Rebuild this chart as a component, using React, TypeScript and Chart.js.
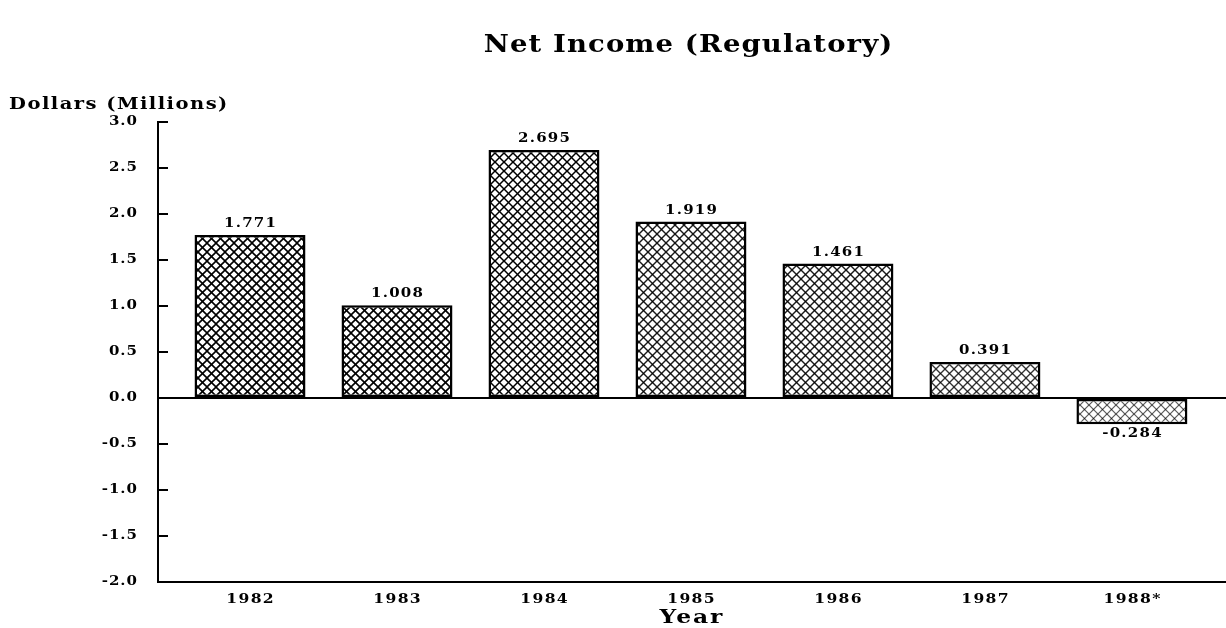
import { useEffect, useRef } from "react";
import { Chart, registerables } from "chart.js";

Chart.register(...registerables);

const categories = ["1982", "1983", "1984", "1985", "1986", "1987", "1988*"];
const netIncome = [1.771, 1.008, 2.695, 1.919, 1.461, 0.391, -0.284];
const valueLabels = ["1.771", "1.008", "2.695", "1.919", "1.461", "0.391", "-0.284"];
const yMin = -2.0;
const yMax = 3.0;
const yStep = 0.5;

const TITLE = "Net Income (Regulatory)";
const Y_LABEL = "Dollars (Millions)";
const X_LABEL = "Year";

function makePattern(strength: number, width: number): CanvasPattern | string {
  const s = 9;
  const c = document.createElement("canvas");
  c.width = s;
  c.height = s;
  const g = c.getContext("2d");
  if (!g) return "#888";
  g.fillStyle = "#fff";
  g.fillRect(0, 0, s, s);
  g.strokeStyle = `rgba(0,0,0,${strength})`;
  g.lineWidth = width;
  for (const d of [-s, 0, s]) {
    g.beginPath();
    g.moveTo(d, 0);
    g.lineTo(d + s, s);
    g.stroke();
    g.beginPath();
    g.moveTo(d + s, 0);
    g.lineTo(d, s);
    g.stroke();
  }
  const p = g.createPattern(c, "repeat");
  return p || "#888";
}

const FONT = "'DejaVu Serif', serif";

function wideText(
  ctx: CanvasRenderingContext2D,
  text: string,
  x: number,
  y: number,
  sx: number,
  spacing: number
) {
  ctx.save();
  ctx.translate(x, y);
  ctx.scale(sx, 1);
  (ctx as any).letterSpacing = `${spacing}px`;
  let dx = 0;
  if (ctx.textAlign === "center") dx = spacing / 2;
  else if (ctx.textAlign === "right") dx = spacing;
  ctx.fillText(text, dx, 0);
  ctx.restore();
}

const textPlugin = {
  id: "textPlugin",
  afterDraw(chart: any) {
    const ctx = chart.ctx as CanvasRenderingContext2D;
    const xs = chart.scales.x;
    const ys = chart.scales.y;
    const area = chart.chartArea;
    ctx.save();
    ctx.fillStyle = "#000";
    ctx.strokeStyle = "#000";
    ctx.textBaseline = "middle";

    // title
    ctx.font = `bold 25px ${FONT}`;
    ctx.textAlign = "center";
    wideText(ctx, TITLE, 688, 45, 1.1, 1);

    // y label
    ctx.font = `bold 16px ${FONT}`;
    ctx.textAlign = "left";
    wideText(ctx, Y_LABEL, 9, 105, 1.22, 1.2);

    // y ticks (inside marks) and labels
    ctx.font = `bold 12px ${FONT}`;
    ctx.textAlign = "right";
    ctx.lineWidth = 2;
    ys.ticks.forEach((t: any) => {
      const y = ys.getPixelForValue(t.value);
      ctx.beginPath();
      ctx.moveTo(area.left, y);
      ctx.lineTo(area.left + 10, y);
      ctx.stroke();
      wideText(ctx, Number(t.value).toFixed(1), 137, y, 1.25, 0.8);
    });

    // x tick labels
    ctx.textAlign = "center";
    categories.forEach((c, i) => {
      const x = xs.getPixelForValue(i);
      wideText(ctx, c, x, 600, 1.3, 1);
    });

    // x axis title
    ctx.font = `bold 18px ${FONT}`;
    wideText(ctx, X_LABEL, 691, 618, 1.3, 1.5);

    // value labels
    ctx.font = `bold 12px ${FONT}`;
    const meta = chart.getDatasetMeta(0);
    meta.data.forEach((el: any, i: number) => {
      const v = netIncome[i];
      const y = v >= 0 ? el.y - 11 : el.y + 10;
      wideText(ctx, valueLabels[i], el.x, y, 1.25, 1);
    });
    ctx.restore();
  },
};

export default function App() {
  const ref = useRef<HTMLCanvasElement | null>(null);
  useEffect(() => {
    if (!ref.current) return;
    const strengths = [1, 1, 1, 0.9, 0.9, 0.8, 0.65];
    const widths = [1.6, 1.6, 1.5, 1.4, 1.4, 1.3, 1.2];
    const patterns = netIncome.map((_, i) => makePattern(strengths[i], widths[i]));
    const chart = new Chart(ref.current, {
      type: "bar",
      data: {
        datasets: [
          {
            data: netIncome.map((v, i) => ({ x: i, y: v })),
            backgroundColor: patterns as any,
            borderColor: "#000",
            borderWidth: 2.5,
            borderSkipped: false,
            categoryPercentage: 1,
            barPercentage: 0.755,
          },
        ],
      },
      options: {
        animation: false,
        responsive: false,
        devicePixelRatio: 1,
        layout: { padding: { left: 0, right: 0, top: 122, bottom: 0 } },
        plugins: {
          legend: { display: false },
          title: { display: false },
          tooltip: { enabled: false },
        },
        scales: {
          x: {
            type: "linear",
            min: -0.626,
            max: 6.64,
            offset: false,
            afterBuildTicks: (s: any) => {
              s.ticks = categories.map((_, i) => ({ value: i }));
            },
            afterFit: (s: any) => {
              s.height = 46;
            },
            ticks: { display: false },
            grid: { display: false },
            border: { display: true, color: "#000", width: 2 },
          },
          y: {
            min: yMin,
            max: yMax,
            ticks: { display: false, stepSize: yStep },
            afterFit: (s: any) => {
              s.width = 158;
            },
            grid: {
              drawTicks: false,
              color: (c: any) => (c.tick && c.tick.value === 0 ? "#000" : "rgba(0,0,0,0)"),
              lineWidth: (c: any) => (c.tick && c.tick.value === 0 ? 2 : 0),
            },
            border: { display: true, color: "#000", width: 2 },
          },
        },
      },
      plugins: [textPlugin],
    });
    return () => chart.destroy();
  }, []);
  return (
    <div style={{ position: "absolute", left: 0, top: 0, width: 1226, height: 628, background: "#fff" }}>
      <canvas ref={ref} width={1226} height={628} />
    </div>
  );
}
